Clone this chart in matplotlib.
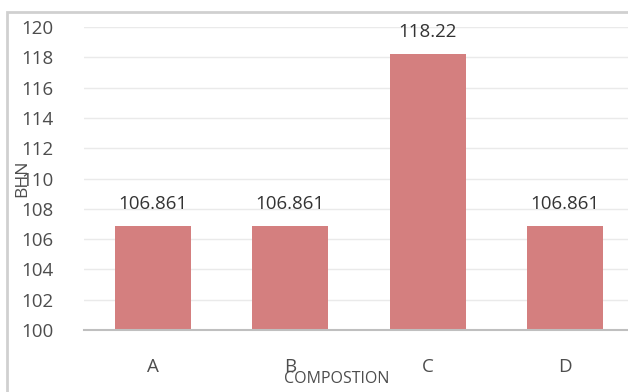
import matplotlib.pyplot as plt
from matplotlib.patches import Rectangle

# hardness per composition
compositions = ["A", "B", "C", "D"]
bhn = [106.861, 106.861, 118.22, 106.861]
bar_labels = ["106.861", "106.861", "118.22", "106.861"]
yticks = [100, 102, 104, 106, 108, 110, 112, 114, 116, 118, 120]

plt.rcParams['font.family'] = ['Open Sans', 'DejaVu Sans']
text_col = "#4D4D4D"

fig = plt.figure(figsize=(6.28, 3.92), dpi=100)
# outer chart frame
fig.patches.append(Rectangle((7/628, -0.1), 1.2, (392-12)/392 + 0.1,
                             transform=fig.transFigure, fill=False,
                             edgecolor="#D0D0D0", linewidth=2))

ax = fig.add_axes([84/628, 62/392, 550/628, 303/392])
x = range(len(compositions))
ax.bar(x, bhn, width=0.555, color="#D47F7F", zorder=2)
for xi, v, lab in zip(x, bhn, bar_labels):
    ax.text(xi, v + 0.85, lab, ha="center", va="bottom", fontsize=13.5, color="#333333")

ax.set_ylim(100, 120)
ax.set_xlim(-0.5, 3.5)
ax.set_yticks(yticks)
ax.set_xticks(list(x))
ax.set_xticklabels(compositions)
ax.tick_params(axis="both", length=0, labelsize=13.5, labelcolor=text_col)
ax.tick_params(axis="x", pad=20)
ax.tick_params(axis="y", pad=22)
ax.grid(axis="y", color="#EAEAEA", linewidth=1, zorder=0)
for s in ["top", "right", "left"]:
    ax.spines[s].set_visible(False)
ax.spines["bottom"].set_color("#BFBFBF")
ax.spines["bottom"].set_linewidth(1.5)
ax.spines["bottom"].set_zorder(3)

fig.text(22/628, 1 - 178/392, "BHN", rotation=90, ha="center", va="center",
         fontsize=12.5, color=text_col)
fig.text(337/628, 1 - 379/392, "COMPOSTION", ha="center", va="center",
         fontsize=11.5, color=text_col)

fig.savefig("out.png", dpi=100)
